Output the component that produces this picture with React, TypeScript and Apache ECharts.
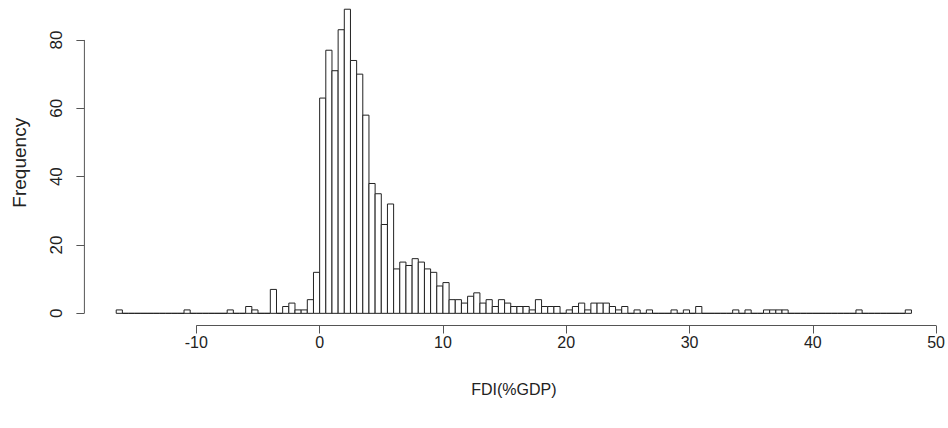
import React, { useEffect, useRef } from "react";
import * as echarts from "echarts";

// Histogram of FDI (% of GDP), bins of width 0.5 starting at -16.5
const BIN_START = -16.5;
const BIN_WIDTH = 0.5;
const counts = [
  1, 0, 0, 0, 0, 0, 0, 0, 0, 0,
  0, 1, 0, 0, 0, 0, 0, 0, 1, 0,
  0, 2, 1, 0, 0, 7, 0, 2, 3, 1,
  1, 4, 12, 63, 77, 71, 83, 89, 74, 70,
  58, 38, 35, 26, 32, 13, 15, 14, 16, 15,
  13, 12, 8, 9, 4, 4, 3, 5, 6, 3,
  4, 2, 4, 3, 2, 2, 2, 1, 4, 2,
  2, 2, 0, 1, 2, 3, 1, 3, 3, 3,
  2, 1, 2, 0, 1, 0, 1, 0, 0, 0,
  1, 0, 1, 0, 2, 0, 0, 0, 0, 0,
  1, 0, 1, 0, 0, 1, 1, 1, 1, 0,
  0, 0, 0, 0, 0, 0, 0, 0, 0, 0,
  1, 0, 0, 0, 0, 0, 0, 0, 1,
];
const xTicks = [-10, 0, 10, 20, 30, 40, 50];
const yTicks = [0, 20, 40, 60, 80];
const xRange = [-19.08, 50.58];
const yRange = [-3.56, 91.7];
const xTitle = "FDI(%GDP)";
const yTitle = "Frequency";

const FONT = "'Liberation Sans', Arial, Helvetica, sans-serif";

export default function App() {
  const ref = useRef<HTMLDivElement>(null);
  useEffect(() => {
    if (!ref.current) return;
    const chart = echarts.init(ref.current, null, { renderer: "svg" });
    const bins = counts.map((c, i) => [
      BIN_START + i * BIN_WIDTH,
      BIN_START + (i + 1) * BIN_WIDTH,
      c,
    ]);
    chart.setOption({
      animation: false,
      backgroundColor: "#ffffff",
      grid: { left: 84.4, right: 3.3, top: 0, bottom: 102.5, containLabel: false },
      xAxis: {
        type: "value",
        min: xRange[0],
        max: xRange[1],
        axisLine: { show: false, onZero: false },
        splitLine: { show: false },
        axisTick: {
          show: true,
          length: 8,
          customValues: xTicks,
          lineStyle: { color: "#555", width: 1 },
        },
        axisLabel: {
          customValues: xTicks,
          margin: 9,
          color: "#222",
          fontSize: 16,
          fontFamily: FONT,
        },
        name: xTitle,
        nameLocation: "middle",
        nameGap: 56,
        nameTextStyle: { color: "#222", fontSize: 16, fontFamily: FONT },
      },
      yAxis: {
        type: "value",
        min: yRange[0],
        max: yRange[1],
        axisLine: { show: false, onZero: false },
        splitLine: { show: false },
        axisTick: {
          show: true,
          length: 8,
          customValues: yTicks,
          lineStyle: { color: "#555", width: 1 },
        },
        axisLabel: {
          customValues: yTicks,
          rotate: 90,
          margin: 19,
          color: "#222",
          fontSize: 17,
          fontFamily: FONT,
        },
        name: yTitle,
        nameLocation: "middle",
        nameGap: 55,
        nameRotate: 90,
        nameTextStyle: { color: "#222", fontSize: 19, fontFamily: FONT },
      },
      series: [
        {
          type: "custom",
          name: "hist",
          clip: false,
          silent: true,
          data: bins,
          renderItem: (params: any, api: any) => {
            const x0 = api.value(0);
            const x1 = api.value(1);
            const h = api.value(2);
            const p0 = api.coord([x0, h]);
            const p1 = api.coord([x1, 0]);
            return {
              type: "rect",
              shape: {
                x: p0[0],
                y: p0[1],
                width: p1[0] - p0[0],
                height: p1[1] - p0[1],
              },
              style: { fill: "#ffffff", stroke: "#222", lineWidth: 1 },
            };
          },
        },
        {
          type: "custom",
          name: "axes",
          clip: false,
          silent: true,
          data: [[0]],
          renderItem: (params: any, api: any) => {
            const xa = api.coord([xTicks[0], yRange[0]]);
            const xb = api.coord([xTicks[xTicks.length - 1], yRange[0]]);
            const ya = api.coord([xRange[0], yTicks[0]]);
            const yb = api.coord([xRange[0], yTicks[yTicks.length - 1]]);
            return {
              type: "group",
              children: [
                {
                  type: "line",
                  shape: { x1: xa[0], y1: xa[1], x2: xb[0], y2: xb[1] },
                  style: { stroke: "#555", lineWidth: 1 },
                },
                {
                  type: "line",
                  shape: { x1: ya[0], y1: ya[1], x2: yb[0], y2: yb[1] },
                  style: { stroke: "#555", lineWidth: 1 },
                },
              ],
            };
          },
        },
      ],
    });
    return () => chart.dispose();
  }, []);
  return (
    <div
      ref={ref}
      style={{
        position: "fixed",
        left: 0,
        top: 0,
        width: 948,
        height: 428,
        background: "#fff",
      }}
    />
  );
}
